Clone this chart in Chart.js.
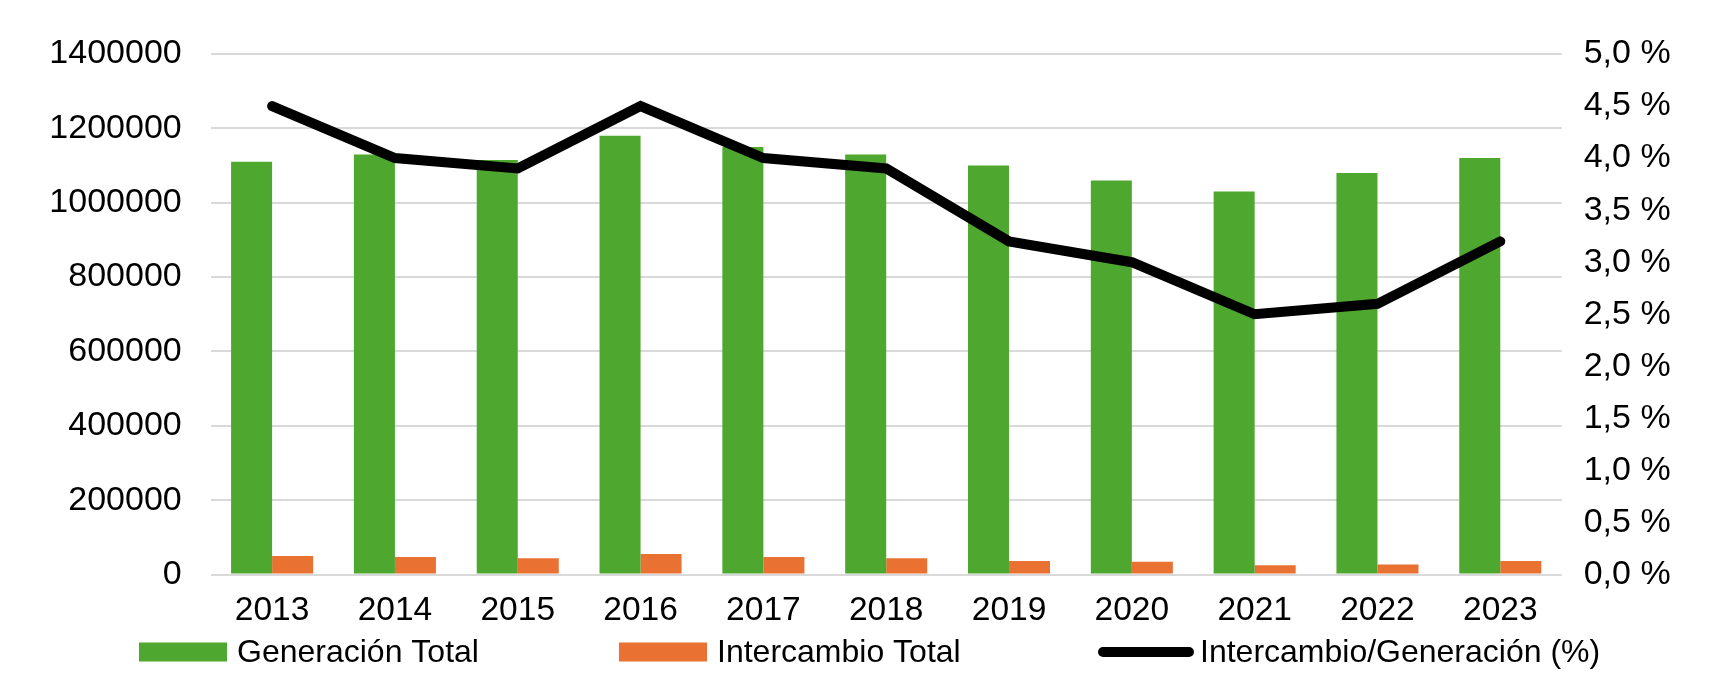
<!DOCTYPE html>
<html>
<head>
<meta charset="utf-8">
<script src="https://cdn.jsdelivr.net/npm/chart.js@4/dist/chart.umd.min.js"></script>
<style>
  body { margin: 0; background: #fff; }
  #wrap { width: 1727px; height: 687px; position: relative; }
</style>
</head>
<body>
<div id="wrap"><canvas id="chart"></canvas></div>
<script>
// ===== DATA =====
const years       = ['2013', '2014', '2015', '2016', '2017', '2018', '2019', '2020', '2021', '2022', '2023'];
const generacion  = [1110000, 1130000, 1115000, 1180000, 1150000, 1130000, 1100000, 1060000, 1030000, 1080000, 1120000];
const intercambio = [50000, 47000, 44000, 55000, 47000, 44000, 36000, 34000, 25000, 27000, 36000];
const ratio       = [4.5, 4.0, 3.9, 4.5, 4.0, 3.9, 3.2, 3.0, 2.5, 2.6, 3.2];

const FONT = 'Liberation Sans, Arial, sans-serif';

// legend drawn by hand so the items sit where the original has them
const legendItems = [
  { ds: 0, box: 139, w: 88, text: 237 },
  { ds: 1, box: 619, w: 88, text: 717 },
  { ds: 2, box: 1098, w: 96, text: 1200 }
];

const manualLegend = {
  id: 'manualLegend',
  afterDraw(chart) {
    const ctx = chart.ctx;
    const y = 652;
    ctx.save();
    ctx.font = '32px ' + FONT;
    ctx.textBaseline = 'middle';
    legendItems.forEach(function(it){
      const ds = chart.data.datasets[it.ds];
      if (ds.type === 'line') {
        ctx.strokeStyle = ds.borderColor;
        ctx.lineWidth = 10;
        ctx.lineCap = 'round';
        ctx.beginPath();
        ctx.moveTo(it.box + 5, y);
        ctx.lineTo(it.box + it.w - 5, y);
        ctx.stroke();
      } else {
        ctx.fillStyle = ds.backgroundColor;
        ctx.fillRect(it.box, y - 9.5, it.w, 19);
      }
      ctx.fillStyle = '#000';
      ctx.fillText(ds.label, it.text, y + 1);
    });
    ctx.restore();
  }
};

new Chart(document.getElementById('chart'), {
  data: {
    labels: years,
    datasets: [
      {
        type: 'bar',
        label: 'Generación Total',
        data: generacion,
        backgroundColor: '#4ea72e',
        yAxisID: 'y',
        order: 1,
        barPercentage: 1,
        categoryPercentage: 0.668
      },
      {
        type: 'bar',
        label: 'Intercambio Total',
        data: intercambio,
        backgroundColor: '#e97132',
        yAxisID: 'y',
        order: 1,
        barPercentage: 1,
        categoryPercentage: 0.668
      },
      {
        type: 'line',
        label: 'Intercambio/Generación (%)',
        data: ratio,
        borderColor: '#000',
        backgroundColor: '#000',
        borderWidth: 10,
        borderCapStyle: 'round',
        pointRadius: 0,
        tension: 0,
        yAxisID: 'y1',
        order: 0
      }
    ]
  },
  options: {
    responsive: true,
    maintainAspectRatio: false,
    animation: false,
    layout: { padding: { top: 54, left: 0, right: 0, bottom: 0 } },
    plugins: {
      legend: { display: false },
      tooltip: { enabled: false }
    },
    scales: {
      x: {
        grid: { display: false },
        border: { display: false },
        ticks: { color: '#000', font: { family: FONT, size: 33.5 }, padding: 8, maxRotation: 0 },
        afterFit: function(s){ s.height = 112.5; }
      },
      y: {
        position: 'left',
        min: 0,
        max: 1400000,
        ticks: {
          stepSize: 200000,
          color: '#000',
          font: { family: FONT, size: 34 },
          padding: 29,
          callback: function(v){ return String(v); }
        },
        grid: { color: '#d9d9d9', lineWidth: 2, drawTicks: false },
        border: { display: false },
        afterFit: function(s){ s.width = 210.7; }
      },
      y1: {
        position: 'right',
        min: 0,
        max: 5,
        ticks: {
          stepSize: 0.5,
          color: '#000',
          font: { family: FONT, size: 34 },
          padding: 22,
          callback: function(v){ return v.toFixed(1).replace('.', ',') + ' %'; }
        },
        grid: { display: false, drawTicks: false },
        border: { display: false },
        afterFit: function(s){ s.width = 165.3; }
      }
    }
  },
  plugins: [manualLegend]
});
</script>
</body>
</html>
